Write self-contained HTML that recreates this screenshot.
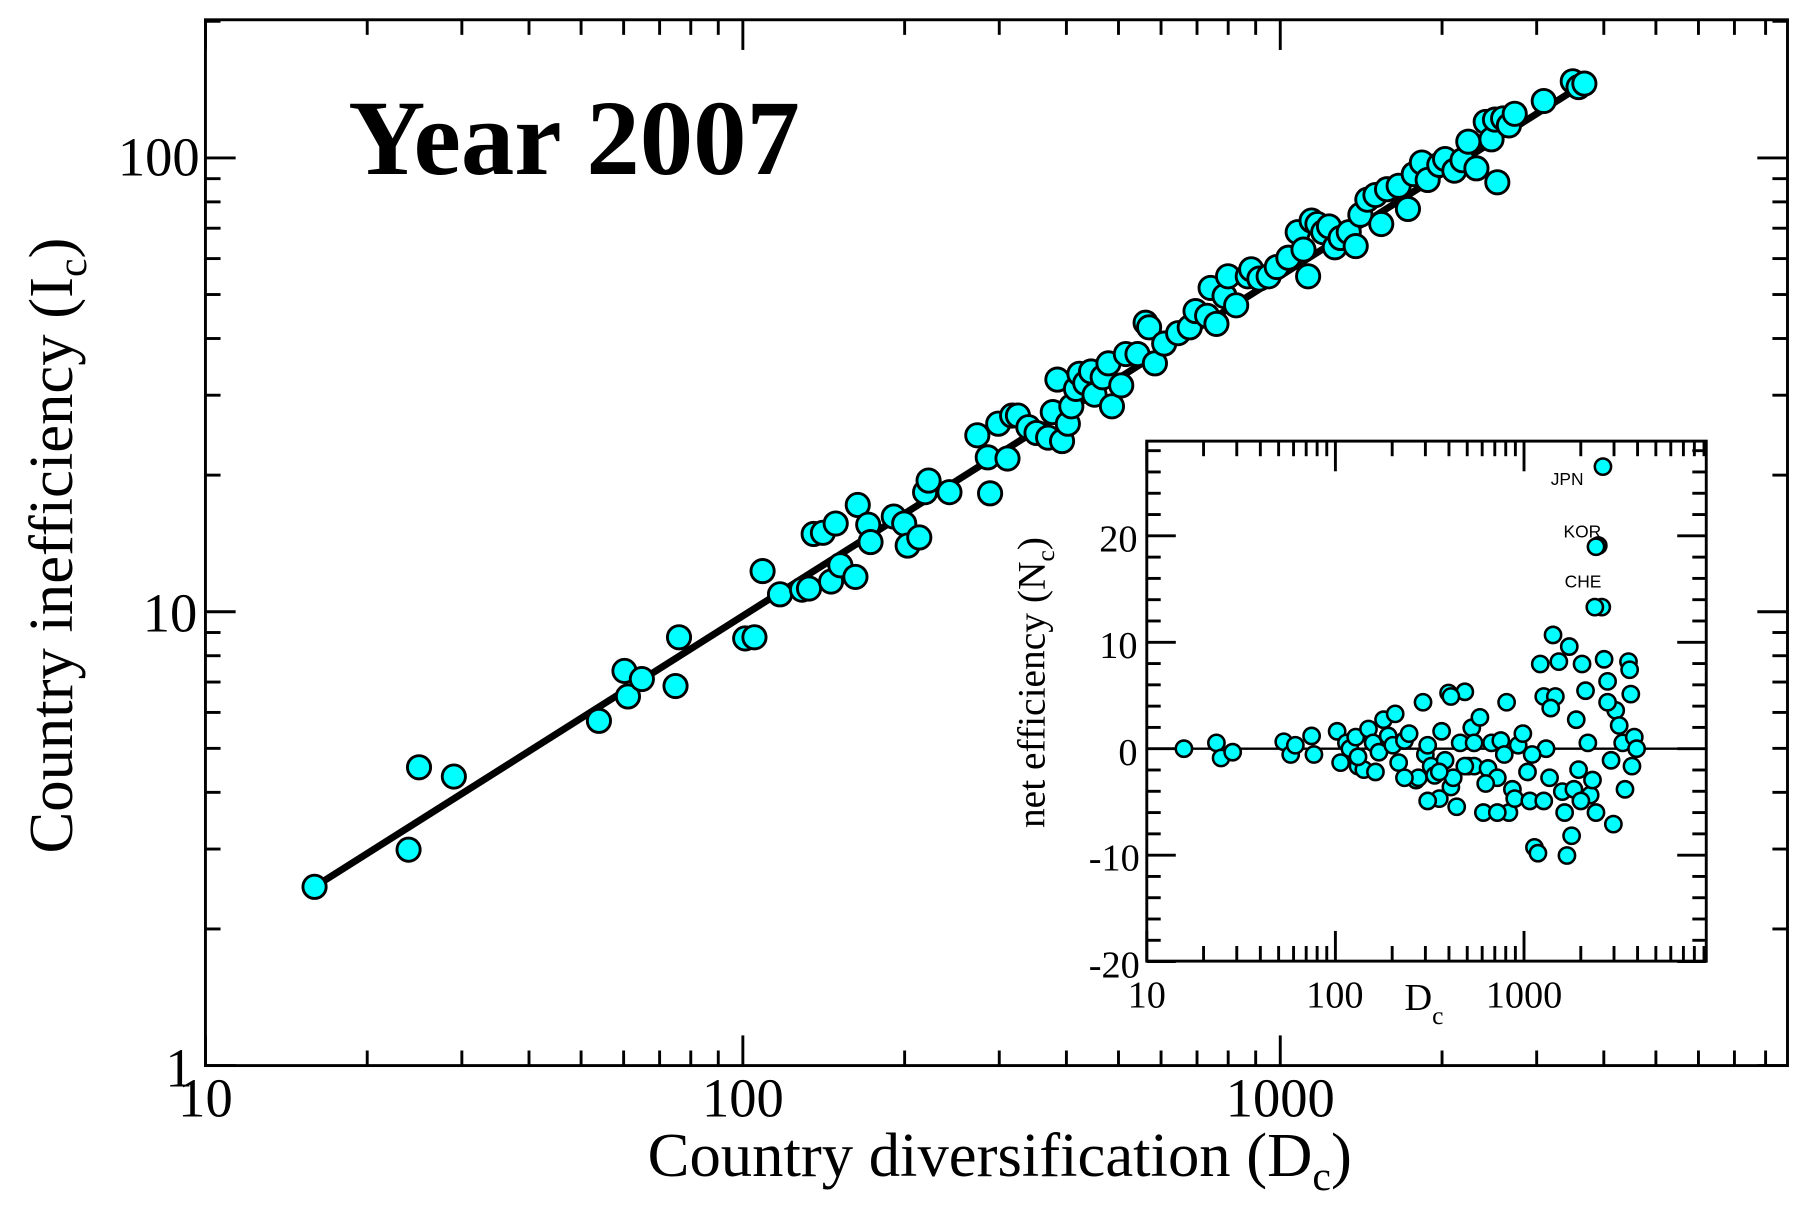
<!DOCTYPE html>
<html><head><meta charset="utf-8"><style>html,body{margin:0;padding:0;background:#fff}svg{display:block}</style></head>
<body>
<svg id="s" xmlns="http://www.w3.org/2000/svg" width="1820" height="1220" viewBox="0 0 1568 1051" font-family="Liberation Serif, serif">
<rect width="1568" height="1051" fill="#fff"/>
<g id="main"></g>
<text x="300" y="150" font-size="92" font-weight="bold">Year 2007</text>
<g font-size="47" text-anchor="middle">
<text x="177" y="962">10</text><text x="640" y="962">100</text><text x="1103" y="962">1000</text>
</g>
<g font-size="47" text-anchor="end">
<text x="172" y="151">100</text><text x="170" y="544">10</text><text x="166" y="936">1</text>
</g>
<text x="558" y="1013" font-size="54">Country diversification (D<tspan font-size="36" dy="12">c</tspan><tspan dy="-12">)</tspan></text>
<text transform="translate(62,470) rotate(-90)" text-anchor="middle" font-size="54">Country inefficiency (I<tspan font-size="36" dy="12">c</tspan><tspan dy="-12">)</tspan></text>
<rect x="988" y="380" width="482" height="448" fill="#fff"/>
<g id="inset"></g>
<g font-size="33" text-anchor="end">
<text x="980" y="475">20</text><text x="980" y="567">10</text><text x="980" y="659">0</text><text x="982" y="750">-10</text><text x="982" y="842">-20</text>
</g>
<g font-size="33" text-anchor="middle">
<text x="988" y="868">10</text><text x="1150" y="868">100</text><text x="1313" y="868">1000</text>
</g>
<text x="1210" y="870" font-size="33">D<tspan font-size="22" dy="12">c</tspan></text>
<text transform="translate(900,588) rotate(-90)" text-anchor="middle" font-size="34">net efficiency (N<tspan font-size="22" dy="8">c</tspan><tspan dy="-8">)</tspan></text>
<g font-family="Liberation Sans, sans-serif" font-size="15">
<text x="1336" y="418">JPN</text><text x="1347" y="463">KOR</text><text x="1348" y="506">CHE</text>
</g>
</svg>
<script>
var NS="http://www.w3.org/2000/svg";
function el(p,t,a){var e=document.createElementNS(NS,t);for(var k in a)e.setAttribute(k,a[k]);p.appendChild(e);return e;}
var m=document.getElementById("main"),ins=document.getElementById("inset");
var L=177,T=17,R=1540,B=918,dx=463,dy=391;
function X(v){return L+dx*(Math.log10(v)-1);}function Y(v){return B-dy*Math.log10(v);}
for(var d=1;d<=4;d++)for(var k=1;k<10;k++){var v=k*Math.pow(10,d);var x=X(v);if(x>R)break;var len=k==1?26:13;
el(m,"line",{x1:x,y1:B,x2:x,y2:B-len,stroke:"#000","stroke-width":2.5});el(m,"line",{x1:x,y1:T,x2:x,y2:T+len,stroke:"#000","stroke-width":2.5});}
for(var d=0;d<=2;d++)for(var k=1;k<10;k++){var v=k*Math.pow(10,d);var y=Y(v);if(y<T)break;var len=k==1?26:13;
el(m,"line",{x1:L,y1:y,x2:L+len,y2:y,stroke:"#000","stroke-width":2.5});el(m,"line",{x1:R,y1:y,x2:R-len,y2:y,stroke:"#000","stroke-width":2.5});}
el(m,"rect",{x:L,y:T,width:R-L,height:B-T,fill:"none",stroke:"#000","stroke-width":2.5});
el(m,"line",{x1:271,y1:764,x2:1365,y2:72,stroke:"#000","stroke-width":6});
var P=[[271,764],[352,732],[361,661],[391,669],[516,621],[538,578],[541,600],[553,585],[582,591],[585,549],[642,550],[650,549],[657,492],[672,512],[691,508],[697,507],[701,460],[709,459],[716,501],[720,451],[724,487],[737,497],[739,435],[748,452],[750,467],[770,445],[779,451],[782,470],[792,463],[797,424],[800,414],[818,424],[842,375],[851,394],[853,425],[860,365],[868,395],[872,358],[877,358],[886,368],[893,373],[903,377],[907,355],[911,327],[915,380],[920,365],[923,350],[927,335],[930,322],[935,330],[940,320],[943,340],[950,325],[955,313],[958,350],[966,332],[970,305],[980,305],[987,278],[990,282],[995,313],[1003,296],[1015,287],[1025,282],[1030,268],[1040,272],[1043,248],[1048,279],[1055,255],[1058,238],[1065,263],[1075,238],[1078,232],[1085,240],[1093,238],[1100,230],[1110,222],[1118,200],[1123,215],[1127,238],[1130,190],[1135,193],[1140,200],[1145,195],[1150,213],[1155,205],[1162,200],[1168,212],[1172,185],[1178,172],[1185,168],[1190,193],[1195,163],[1205,160],[1213,180],[1218,150],[1225,140],[1230,155],[1240,142],[1245,137],[1253,147],[1260,138],[1265,122],[1272,145],[1280,105],[1285,120],[1288,103],[1290,157],[1295,102],[1300,108],[1305,98],[1330,87],[1355,70],[1360,75],[1365,72]];
P.forEach(function(p){el(m,"circle",{cx:p[0],cy:p[1],r:10,fill:"#00ffff",stroke:"#000","stroke-width":2.5});});
var iL=988,iT=380,iR=1470,iB=828,idx=162.5;
for(var d=1;d<=3;d++)for(var k=1;k<10;k++){var v=k*Math.pow(10,d);var x=iL+idx*(Math.log10(v)-1);if(x>iR)break;var len=k==1?26:13;
el(ins,"line",{x1:x,y1:iB,x2:x,y2:iB-len,stroke:"#000","stroke-width":2.5});el(ins,"line",{x1:x,y1:iT,x2:x,y2:iT+len,stroke:"#000","stroke-width":2.5});}
for(var n=-20;n<=28;n+=2){var y=645-9.17*n;var len=(n%10==0)?25:12;
el(ins,"line",{x1:iL,y1:y,x2:iL+len,y2:y,stroke:"#000","stroke-width":2.5});el(ins,"line",{x1:iR,y1:y,x2:iR-len,y2:y,stroke:"#000","stroke-width":2.5});}
el(ins,"rect",{x:iL,y:iT,width:iR-iL,height:iB-iT,fill:"none",stroke:"#000","stroke-width":2.5});
el(ins,"line",{x1:iL,y1:645,x2:iR,y2:645,stroke:"#000","stroke-width":2});
var Q=[[1020,645],[1048,640],[1052,653],[1062,648],[1106,639],[1112,650],[1116,642],[1130,634],[1132,650],[1152,630],[1155,657],[1160,640],[1163,645],[1168,635],[1170,660],[1175,663],[1179,628],[1183,640],[1185,665],[1188,648],[1192,620],[1196,634],[1200,642],[1202,615],[1205,657],[1210,638],[1214,632],[1220,672],[1222,670],[1226,605],[1228,650],[1230,642],[1233,660],[1236,668],[1240,688],[1242,630],[1245,655],[1248,597],[1250,678],[1252,670],[1255,695],[1258,640],[1262,596],[1265,660],[1268,627],[1270,660],[1275,618],[1278,700],[1282,662],[1285,640],[1290,670],[1293,638],[1296,650],[1298,605],[1300,700],[1303,680],[1305,688],[1308,642],[1312,632],[1316,665],[1322,730],[1325,735],[1327,572],[1330,600],[1332,645],[1335,670],[1338,547],[1340,600],[1343,570],[1346,682],[1348,700],[1350,737],[1352,557],[1354,720],[1356,680],[1358,620],[1360,663],[1363,572],[1366,595],[1368,640],[1370,685],[1372,672],[1375,700],[1377,470],[1380,523],[1382,568],[1385,587],[1388,655],[1390,710],[1392,612],[1395,625],[1398,640],[1400,680],[1403,570],[1405,598],[1406,660],[1408,635],[1410,645],[1381,402],[1375,471],[1374,523],[1336,610],[1318,690],[1290,700],[1250,600],[1210,670],[1170,652],[1240,665],[1270,640],[1330,690],[1385,605],[1404,577],[1362,690],[1320,650],[1280,675],[1230,690],[1262,660]];
Q.forEach(function(p){el(ins,"circle",{cx:p[0],cy:p[1],r:7,fill:"#00ffff",stroke:"#000","stroke-width":2.2});});
</script>
</body></html>
